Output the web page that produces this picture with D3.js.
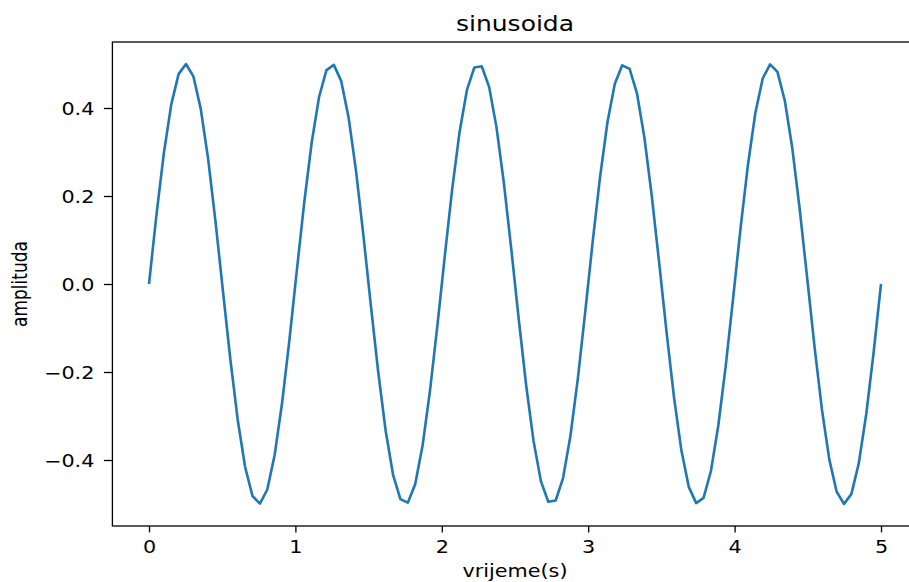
<!DOCTYPE html>
<html>
<head>
<meta charset="utf-8">
<script src="https://cdn.jsdelivr.net/npm/d3@7"></script>
<style>
  html, body { margin: 0; padding: 0; background: #fff; overflow: hidden; }
</style>
</head>
<body>
<div id="chart"></div>
<script>
// time samples (s)
const time = [
  0, 0.0505, 0.1010, 0.1515, 0.2020, 0.2525, 0.3030, 0.3535, 0.4040, 0.4545,
  0.5051, 0.5556, 0.6061, 0.6566, 0.7071, 0.7576, 0.8081, 0.8586, 0.9091, 0.9596,
  1.0101, 1.0606, 1.1111, 1.1616, 1.2121, 1.2626, 1.3131, 1.3636, 1.4141, 1.4646,
  1.5152, 1.5657, 1.6162, 1.6667, 1.7172, 1.7677, 1.8182, 1.8687, 1.9192, 1.9697,
  2.0202, 2.0707, 2.1212, 2.1717, 2.2222, 2.2727, 2.3232, 2.3737, 2.4242, 2.4747,
  2.5253, 2.5758, 2.6263, 2.6768, 2.7273, 2.7778, 2.8283, 2.8788, 2.9293, 2.9798,
  3.0303, 3.0808, 3.1313, 3.1818, 3.2323, 3.2828, 3.3333, 3.3838, 3.4343, 3.4848,
  3.5354, 3.5859, 3.6364, 3.6869, 3.7374, 3.7879, 3.8384, 3.8889, 3.9394, 3.9899,
  4.0404, 4.0909, 4.1414, 4.1919, 4.2424, 4.2929, 4.3434, 4.3939, 4.4444, 4.4949,
  4.5455, 4.5960, 4.6465, 4.6970, 4.7475, 4.7980, 4.8485, 4.8990, 4.9495, 5.0
];

// amplitude at each sample
const amplitude = [
  0, 0.156, 0.296, 0.407, 0.477, 0.500, 0.472, 0.398, 0.284, 0.141,
  -0.016, -0.171, -0.309, -0.416, -0.482, -0.499, -0.467, -0.388, -0.270, -0.126,
  0.032, 0.186, 0.321, 0.425, 0.486, 0.498, 0.461, 0.378, 0.257, 0.110,
  -0.048, -0.200, -0.333, -0.433, -0.489, -0.497, -0.455, -0.367, -0.243, -0.095,
  0.063, 0.215, 0.345, 0.441, 0.492, 0.495, 0.448, 0.356, 0.229, 0.079,
  -0.079, -0.229, -0.356, -0.448, -0.495, -0.492, -0.441, -0.345, -0.215, -0.063,
  0.095, 0.243, 0.367, 0.455, 0.497, 0.489, 0.433, 0.333, 0.200, 0.048,
  -0.110, -0.257, -0.378, -0.461, -0.498, -0.486, -0.425, -0.321, -0.186, -0.032,
  0.126, 0.270, 0.388, 0.467, 0.499, 0.482, 0.416, 0.309, 0.171, 0.016,
  -0.141, -0.284, -0.398, -0.472, -0.500, -0.477, -0.407, -0.296, -0.156, 0
];

const xTicks = [0, 1, 2, 3, 4, 5];
const yTicks = [-0.4, -0.2, 0.0, 0.2, 0.4];

const width = 909, height = 582;
// plot box (right edge runs past the window, as in the picture)
const plotLeft = 112.4, plotRight = 917.6, plotTop = 42, plotBottom = 526;
// the picture is stretched sideways, text included
const stretch = 1.22;

const svg = d3.select("#chart").append("svg")
    .attr("width", width)
    .attr("height", height)
    .style("font-family", "'DejaVu Sans', sans-serif");

const x = d3.scaleLinear().domain([-0.25, 5.25]).range([plotLeft, plotRight]);
const y = d3.scaleLinear().domain([-0.55, 0.55]).range([plotBottom, plotTop]);

// axes
const xAxis = svg.append("g")
    .attr("transform", `translate(0,${plotBottom})`)
    .call(d3.axisBottom(x).tickValues(xTicks).tickFormat(d3.format("d")).tickSize(6.4).tickPadding(8.5));

const yAxis = svg.append("g")
    .attr("transform", `translate(${plotLeft},0)`)
    .call(d3.axisLeft(y).tickValues(yTicks)
        .tickFormat(d => d3.format(".1f")(d).replace("-", "\u2212"))
        .tickSize(8.5).tickPadding(9.5));

[xAxis, yAxis].forEach(g => {
    g.select(".domain").remove();
    g.selectAll("line").attr("stroke", "#000").attr("stroke-width", 1.3);
    g.selectAll("text").attr("fill", "#000").style("font-size", "17px")
        .style("font-family", "'DejaVu Sans', sans-serif")
        .each(function() {
            const t = d3.select(this);
            const tx = +t.attr("x") || 0;
            t.attr("x", 0).attr("transform", `translate(${tx},0) scale(${stretch},1)`);
        });
});
yAxis.selectAll("text").attr("dy", "0.36em");

// sine line
const line = d3.line()
    .x((d, i) => x(time[i]))
    .y(d => y(d));

svg.append("path")
    .datum(amplitude)
    .attr("fill", "none")
    .attr("stroke", "#1f77b4")
    .attr("stroke-width", 2.6)
    .attr("stroke-linejoin", "round")
    .attr("d", line);

// frame
svg.append("rect")
    .attr("x", plotLeft).attr("y", plotTop)
    .attr("width", plotRight - plotLeft).attr("height", plotBottom - plotTop)
    .attr("fill", "none").attr("stroke", "#000").attr("stroke-width", 1.3);

// title and labels
svg.append("text")
    .attr("transform", `translate(${(plotLeft + plotRight) / 2},30.5) scale(${stretch},1)`)
    .attr("text-anchor", "middle")
    .style("font-size", "20.5px")
    .text("sinusoida");

svg.append("text")
    .attr("transform", `translate(${(plotLeft + plotRight) / 2},577) scale(${stretch},1)`)
    .attr("text-anchor", "middle")
    .style("font-size", "17px")
    .text("vrijeme(s)");

svg.append("text")
    .attr("transform", `translate(27,${(plotTop + plotBottom) / 2}) scale(${stretch},1) rotate(-90)`)
    .attr("text-anchor", "middle")
    .style("font-size", "17px")
    .text("amplituda");
</script>
</body>
</html>
